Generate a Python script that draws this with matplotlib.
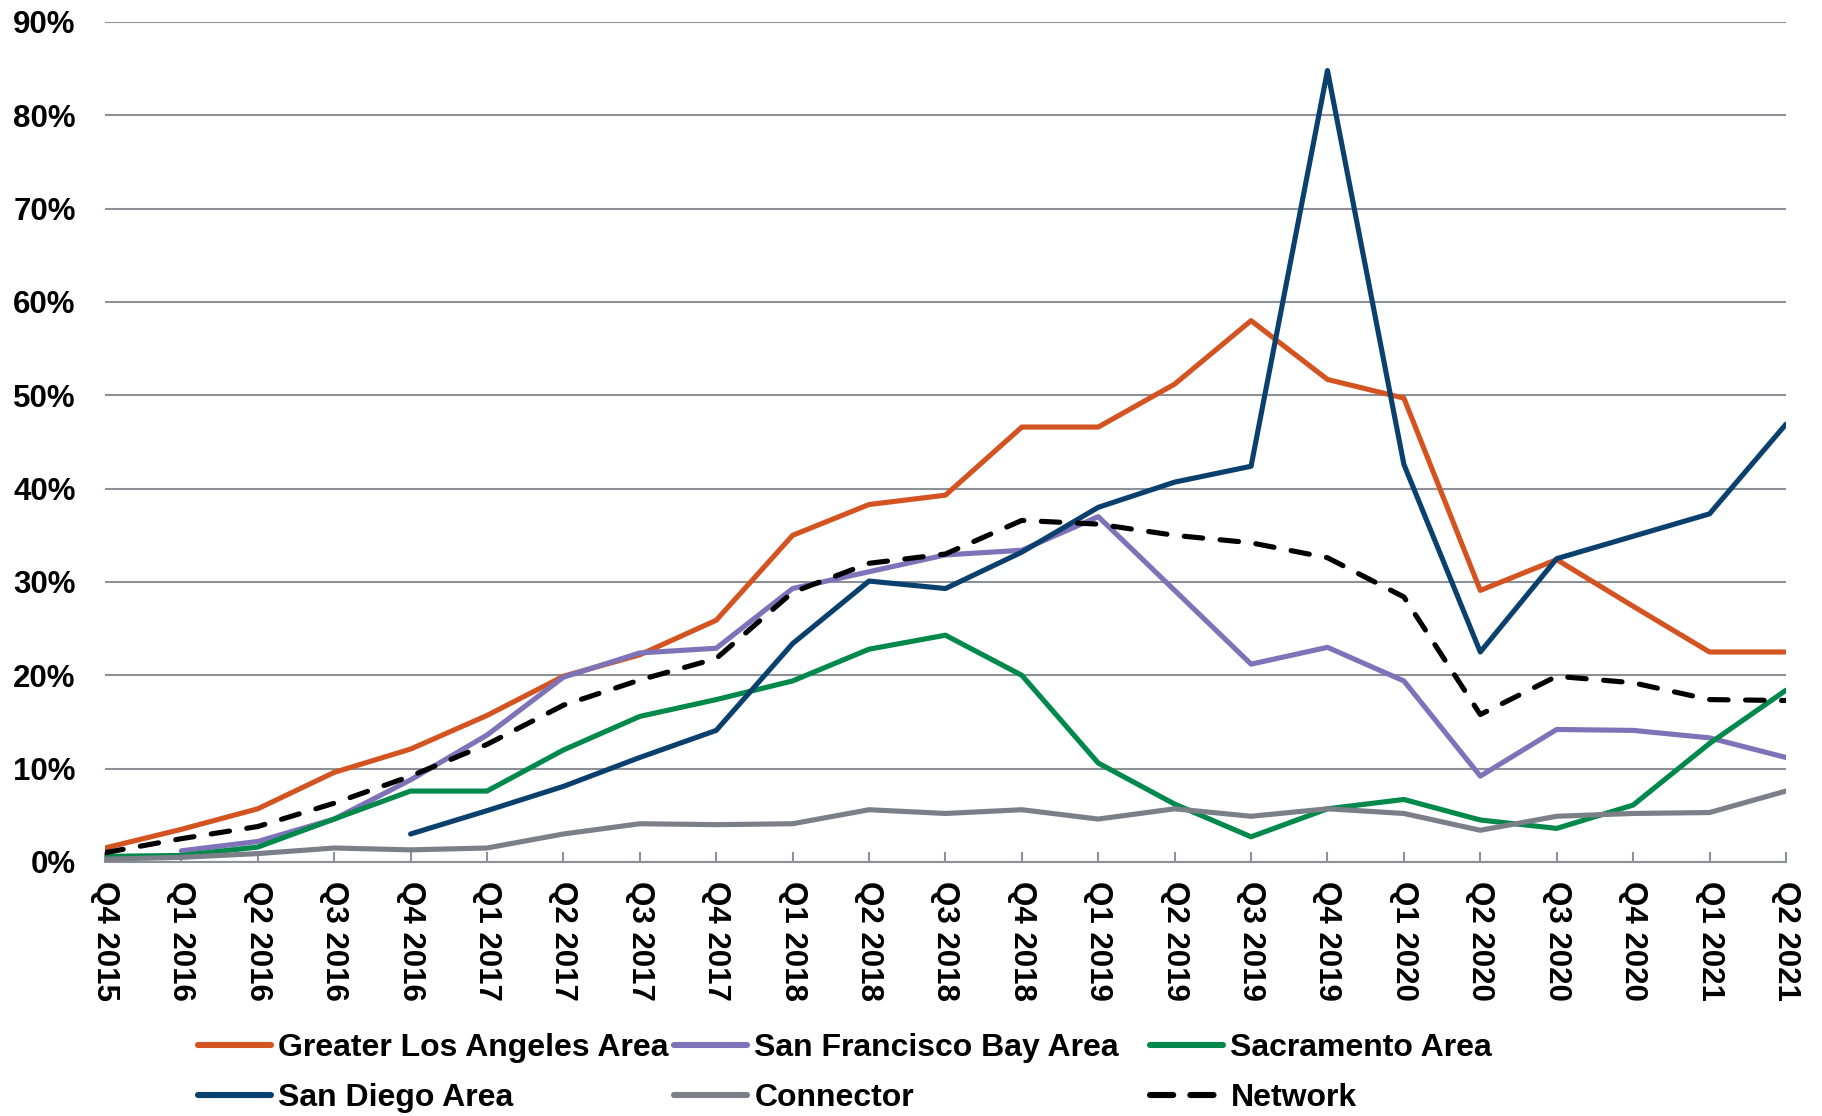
import matplotlib
matplotlib.use("Agg")
import matplotlib.pyplot as plt
from matplotlib.ticker import PercentFormatter
from matplotlib.lines import Line2D
import numpy as np

plt.rcParams['font.family'] = ['Liberation Sans', 'DejaVu Sans']
plt.rcParams['font.weight'] = 'bold'

# Quarter labels (x axis)
quarters = ["Q4 2015", "Q1 2016", "Q2 2016", "Q3 2016", "Q4 2016", "Q1 2017",
            "Q2 2017", "Q3 2017", "Q4 2017", "Q1 2018", "Q2 2018", "Q3 2018",
            "Q4 2018", "Q1 2019", "Q2 2019", "Q3 2019", "Q4 2019", "Q1 2020",
            "Q2 2020", "Q3 2020", "Q4 2020", "Q1 2021", "Q2 2021"]

# Share per region, in percent (None = no data yet)
greater_la = [1.5, 3.5, 5.7, 9.6, 12.1, 15.7, 19.9, 22.2, 25.9, 35.0, 38.3, 39.3,
              46.6, 46.6, 51.2, 58.0, 51.7, 49.7, 29.1, 32.4, 27.4, 22.5, 22.5]
sf_bay = [None, 1.2, 2.2, 4.6, 8.8, 13.6, 19.8, 22.4, 22.9, 29.3, 31.1, 32.9,
          33.4, 37.0, 29.1, 21.2, 23.0, 19.4, 9.2, 14.2, 14.1, 13.3, 11.2]
sacramento = [0.6, 0.7, 1.6, 4.6, 7.6, 7.6, 12.0, 15.6, 17.4, 19.4, 22.8, 24.3,
              20.0, 10.6, 6.2, 2.7, 5.7, 6.7, 4.5, 3.6, 6.1, 12.7, 18.4]
san_diego = [None, None, None, None, 3.0, 5.5, 8.1, 11.2, 14.1, 23.4, 30.1, 29.3,
             33.2, 38.0, 40.7, 42.4, 84.8, 42.6, 22.5, 32.5, 34.9, 37.3, 46.9]
connector = [0.3, 0.5, 0.9, 1.5, 1.3, 1.5, 3.0, 4.1, 4.0, 4.1, 5.6, 5.2,
             5.6, 4.6, 5.7, 4.9, 5.7, 5.2, 3.4, 4.9, 5.2, 5.3, 7.6]
network = [1.0, 2.5, 3.8, 6.3, 9.2, 12.6, 16.8, 19.5, 21.8, 28.9, 32.0, 33.0,
           36.6, 36.2, 35.0, 34.2, 32.6, 28.4, 15.8, 19.9, 19.2, 17.4, 17.3]

series = [
    ("Greater Los Angeles Area", greater_la, "#D35420", "-"),
    ("San Francisco Bay Area", sf_bay, "#7E72B8", "-"),
    ("Sacramento Area", sacramento, "#00894A", "-"),
    ("San Diego Area", san_diego, "#0A406E", "-"),
    ("Connector", connector, "#7B7F87", "-"),
    ("Network", network, "#000000", "--"),
]

fig = plt.figure(figsize=(18.22, 11.16), dpi=100)
ax = fig.add_axes([0.0576, 0.2276, 0.9226, 0.7527])

x = np.arange(len(quarters))
handles = {}
for name, vals, color, ls in series:
    y = np.array([np.nan if v is None else v / 100 for v in vals])
    if ls == "--":
        line, = ax.plot(x, y, color=color, lw=3.7, linestyle=(0, (3.6, 3.4)),
                        dash_capstyle="round", solid_joinstyle="round")
    else:
        line, = ax.plot(x, y, color=color, lw=3.7, solid_capstyle="round",
                        solid_joinstyle="round")
    handles[name] = line

ax.set_xlim(0, len(quarters) - 1)
ax.set_ylim(0, 0.9)
ax.set_yticks(np.arange(0, 0.91, 0.1))
ax.yaxis.set_major_formatter(PercentFormatter(1.0, decimals=0))
ax.set_xticks(x)
ax.set_xticklabels(quarters, rotation=-90, fontsize=22.5, fontweight="bold")
ax.tick_params(axis="y", length=0, pad=21, labelsize=22.5)
ax.tick_params(axis="x", direction="in", length=7, width=1.5, color="#8C9097", pad=14)
ax.grid(axis="y", color="#8C9097", lw=1.5)
ax.set_axisbelow(True)
for s in ["top", "right", "left"]:
    ax.spines[s].set_visible(False)
ax.spines["bottom"].set_color("#8C9097")
ax.spines["bottom"].set_linewidth(1.5)
ax.spines["bottom"].set_zorder(0.5)

# legend laid out in three columns, like the original
columns = [("Greater Los Angeles Area", "San Diego Area"),
           ("San Francisco Bay Area", "Connector"),
           ("Sacramento Area", "Network")]
col_x = [198, 674, 1150]
for names, cx in zip(columns, col_x):
    hs = []
    for n in names:
        src = handles[n]
        hs.append(Line2D([], [], color=src.get_color(), lw=4.4,
                         linestyle=(0, (3.8, 2.8)) if n == "Network" else "-",
                         solid_capstyle="round", dash_capstyle="round"))
    leg = fig.legend(hs, names, loc="upper left",
                     bbox_to_anchor=(cx / 1822, 1 - 1033 / 1116),
                     frameon=False, handlelength=2.3,
                     handletextpad=0.22, labelspacing=0.62,
                     borderaxespad=0, borderpad=0,
                     prop={"weight": "bold", "size": 23})

fig.savefig("out.png", dpi=100)
